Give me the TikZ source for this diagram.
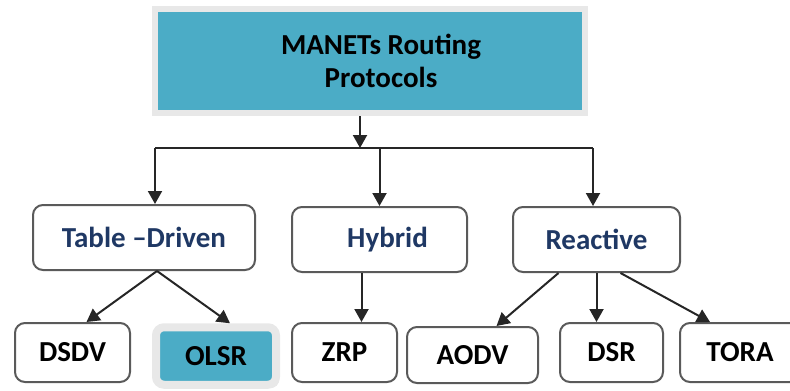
\documentclass[tikz,border=0pt]{standalone}
\usepackage{fontspec}
\setmainfont{Carlito}
\usepackage{tikz}
\usetikzlibrary{positioning,calc,shadows,arrows.meta}
\definecolor{tealbox}{RGB}{75,172,198}
\definecolor{framegray}{RGB}{232,232,232}
\definecolor{edgegray}{RGB}{90,90,90}
\definecolor{navytext}{RGB}{31,56,100}
\tikzset{
	box/.style={draw=edgegray, line width=1pt, rounded corners=5pt, fill=white, font=\fontsize{14.5}{16.5}\bfseries\selectfont},
	classbox/.style={box, text=navytext},
	arr/.style={-{Triangle[length=6.5pt,width=7pt]}, line width=1pt, draw=black!85},
	link/.style={line width=1pt, draw=black!85}
}

\begin{document}
\begin{tikzpicture}[x=0.5pt,y=-0.5pt]
		
		\useasboundingbox (0,0) rectangle (790,390);
		
		\node[draw=framegray, line width=3pt, fill=tealbox, minimum width=214.75pt, minimum height=52pt, align=center, font=\fontsize{14.5}{16.5}\bfseries\selectfont] (root) at (370,61) {\hspace{11pt}MANETs Routing\\\hspace{11pt}Protocols};
		
		\node[classbox, minimum width=111pt, minimum height=32.5pt] (table) at (144,237.5) {Table --Driven};
		
		\node[classbox, minimum width=87.5pt, minimum height=32.5pt] (hybrid) at (379.5,239.5) {\hspace{8pt}Hybrid};
		
		\node[classbox, minimum width=83.5pt, minimum height=32.5pt] (reactive) at (596.5,239.5) {Reactive\hspace{8pt}};
		
		\node[box, minimum width=57.5pt, minimum height=29.5pt] (dsdv) at (72.5,352.5) {DSDV};
		
		\node[box, draw=framegray, line width=4pt, fill=tealbox, rounded corners=4pt, minimum width=60pt, minimum height=28.75pt, drop shadow={opacity=0.25, shadow xshift=1.5pt, shadow yshift=-1.5pt}] (olsr) at (216,356) {\raisebox{-2pt}{OLSR}};
		
		\node[box, minimum width=52.5pt, minimum height=29.5pt] (zrp) at (344.5,352.5) {ZRP\hspace{7pt}};
		
		\node[box, minimum width=65.5pt, minimum height=28pt] (aodv) at (472.5,355) {AODV\hspace{5pt}};
		
		\node[box, minimum width=51.5pt, minimum height=29.5pt] (dsr) at (611.5,352.5) {DSR\hspace{5pt}};
		
		\node[box, minimum width=60pt, minimum height=29.5pt] (tora) at (740,352.5) {TORA};
		
		\coordinate (bus) at (360,148);
		\coordinate (busL) at (155,148);
		\coordinate (busR) at (593,148);
		
		\draw[arr] (root.south -| bus) -- (bus);
		\draw[link] (busL) -- (busR);
		\draw[arr] (busL) -- (busL |- table.north);
		\draw[arr] (hybrid.north |- bus) -- (hybrid.north);
		\draw[arr] (busR) -- (busR |- reactive.north);
		
		\draw[arr] ([xshift=6.5pt]table.south) -- ([xshift=7pt]dsdv.north);
		\draw[arr] ([xshift=6.5pt]table.south) -- ([xshift=7pt]olsr.north);
		\draw[arr] ([xshift=-9pt]hybrid.south) -- ([xshift=-9pt]hybrid.south |- zrp.north);
		\draw[arr] ([xshift=-19pt]reactive.south) -- ([xshift=12pt]aodv.north);
		\draw[arr] (reactive.south) -- (reactive.south |- dsr.north);
		\draw[arr] ([xshift=12pt]reactive.south) -- ([xshift=-15pt]tora.north);
		\end{tikzpicture}
\end{document}
